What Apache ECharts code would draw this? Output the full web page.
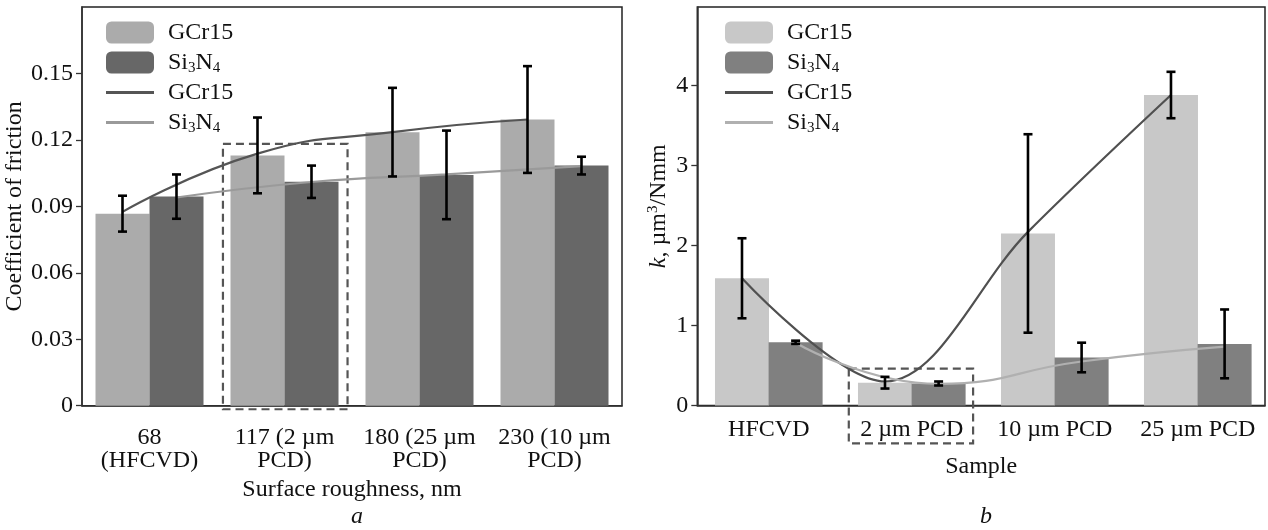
<!DOCTYPE html>
<html>
<head>
<meta charset="utf-8">
<script src="https://cdn.jsdelivr.net/npm/echarts@6/dist/echarts.min.js"></script>
<style>
  html, body { margin: 0; padding: 0; background: #fff; }
  #chart { width: 1268px; height: 530px; }
</style>
</head>
<body>
<div id="chart"></div>
<script>
// ---------- data ----------
const roughnessCategories = ['68\n(HFCVD)', '117 (2 µm\nPCD)', '180 (25 µm\nPCD)', '230 (10 µm\nPCD)'];
const frictionGCr15 = [0.0867, 0.1130, 0.1235, 0.1292];
const frictionSi3N4 = [0.0944, 0.1011, 0.1042, 0.1084];
const frictionErrGCr15 = [0.0081, 0.0171, 0.0200, 0.0241];
const frictionErrSi3N4 = [0.0100, 0.0073, 0.0200, 0.0040];
const frictionFitGCr15 = [0.0875, 0.1138, 0.1235, 0.1292];
const frictionFitSi3N4 = [0.0940, 0.1010, 0.1044, 0.1082];
const frictionTicks = [0, 0.03, 0.06, 0.09, 0.12, 0.15];
const frictionBox = [0.544, -0.0016, 1.467, 0.1182];   // dashed highlight (data units)

const sampleCategories = ['HFCVD', '2 µm PCD', '10 µm PCD', '25 µm PCD'];
const wearGCr15 = [1.59, 0.285, 2.15, 3.88];
const wearSi3N4 = [0.79, 0.275, 0.60, 0.77];
const wearErrGCr15 = [0.50, 0.073, 1.24, 0.29];
const wearErrSi3N4 = [0.02, 0.025, 0.185, 0.43];
const wearFitGCr15 = [1.59, 0.30, 2.17, 3.88];
const wearFitSi3N4 = [0.785, 0.27, 0.55, 0.735];
const wearTicks = [0, 1, 2, 3, 4];
const wearBox = [0.5594, -0.4725, 1.4287, 0.46];       // dashed highlight (data units)

// ---------- styling ----------
const FONT = 'Liberation Serif';
const FS = 24;
const TXT = '#111';
const OFF_A = 0.2;      // half bar spacing, panel a (category units)
const OFF_B = 0.1875;   // half bar spacing, panel b
const LINE_ICON = 'path://M0,0H48V3H0Z';

const richBase = {
  n: { fontFamily: FONT, fontSize: FS, color: TXT, lineHeight: 26, verticalAlign: 'bottom', padding: [0, 0, 1, 0] },
  s: { fontFamily: FONT, fontSize: 15, color: TXT, lineHeight: 26, verticalAlign: 'bottom' },
  p: { fontFamily: FONT, fontSize: 15, color: TXT, lineHeight: 26, verticalAlign: 'top' },
  i: { fontFamily: FONT, fontSize: FS, color: TXT, lineHeight: 26, verticalAlign: 'bottom', fontStyle: 'italic', padding: [0, 0, 1, 0] }
};
const legendLabels = {
  'aBarG': '{n|GCr15}', 'aBarS': '{n|Si}{s|3}{n|N}{s|4}', 'aLineG': '{n|GCr15}', 'aLineS': '{n|Si}{s|3}{n|N}{s|4}',
  'bBarG': '{n|GCr15}', 'bBarS': '{n|Si}{s|3}{n|N}{s|4}', 'bLineG': '{n|GCr15}', 'bLineS': '{n|Si}{s|3}{n|N}{s|4}'
};

function pts(values, offset) { return values.map((v, i) => [i + offset, v]); }
function errs(values, errors, offset) { return values.map((v, i) => [i + offset, v - errors[i], v + errors[i]]); }

function renderErr(params, api) {
  const x = api.value(0);
  const lo = api.coord([x, api.value(1)]);
  const hi = api.coord([x, api.value(2)]);
  const hw = 4.5;
  const st = { stroke: '#000', lineWidth: 2.6 };
  return {
    type: 'group',
    children: [
      { type: 'line', shape: { x1: lo[0], y1: lo[1], x2: hi[0], y2: hi[1] }, style: st },
      { type: 'line', shape: { x1: lo[0] - hw, y1: lo[1], x2: lo[0] + hw, y2: lo[1] }, style: st },
      { type: 'line', shape: { x1: hi[0] - hw, y1: hi[1], x2: hi[0] + hw, y2: hi[1] }, style: st }
    ]
  };
}
function renderBox(params, api) {
  const a = api.coord([api.value(0), api.value(3)]);
  const b = api.coord([api.value(2), api.value(1)]);
  return {
    type: 'rect',
    shape: { x: a[0], y: a[1], width: b[0] - a[0], height: b[1] - a[1] },
    style: { fill: 'none', stroke: '#555', lineWidth: 2.2, lineDash: [8, 5] }
  };
}

function xAxisCfg(gridIndex, cats, max, margin, name, nameGap) {
  return {
    type: 'value', gridIndex, min: -0.5, max,
    splitLine: { show: false },
    axisTick: { show: false },
    axisLine: { onZero: false, lineStyle: { color: '#333', width: 1.5 } },
    axisLabel: {
      customValues: [0, 1, 2, 3],
      formatter: v => cats[Math.round(v)],
      fontFamily: FONT, fontSize: FS, color: TXT, lineHeight: 23, margin
    },
    name, nameLocation: 'middle', nameGap,
    nameTextStyle: { fontFamily: FONT, fontSize: FS, color: TXT }
  };
}
function yAxisCfg(gridIndex, max, ticks, fmt, name, nameGap) {
  return {
    type: 'value', gridIndex, min: 0, max,
    splitLine: { show: false },
    axisLine: { show: true, onZero: false, lineStyle: { color: '#333', width: 1.5 } },
    axisTick: { show: true, customValues: ticks, length: 6, lineStyle: { color: '#333', width: 1.3 } },
    axisLabel: { customValues: ticks, formatter: fmt, fontFamily: FONT, fontSize: FS, color: TXT, margin: 9 },
    name, nameLocation: 'middle', nameGap,
    nameTextStyle: { fontFamily: FONT, fontSize: FS, color: TXT, rich: richBase }
  };
}
function legendCfg(left, names) {
  return {
    orient: 'vertical', left, top: 20.5, padding: 0,
    itemWidth: 48, itemHeight: 22, itemGap: 5,
    selectedMode: false,
    data: names.map((n, k) => (k < 2 ? { name: n } : { name: n, icon: LINE_ICON })),
    formatter: n => legendLabels[n],
    textStyle: { fontFamily: FONT, fontSize: FS, color: TXT, rich: richBase, padding: [0, 0, 0, 9] }
  };
}

const option = {
  animation: false,
  backgroundColor: '#fff',
  title: [
    { text: 'a', left: 352, top: 500, textAlign: 'center', textStyle: { fontFamily: FONT, fontSize: FS, fontStyle: 'italic', fontWeight: 'normal', color: TXT } },
    { text: 'b', left: 981, top: 500, textAlign: 'center', textStyle: { fontFamily: FONT, fontSize: FS, fontStyle: 'italic', fontWeight: 'normal', color: TXT } }
  ],
  grid: [
    { left: 82, top: 7, width: 540, height: 398.7, show: true, borderColor: '#222', borderWidth: 1.5, backgroundColor: 'transparent' },
    { left: 697.3, top: 7, width: 567.7, height: 398.5, show: true, borderColor: '#222', borderWidth: 1.5, backgroundColor: 'transparent' }
  ],
  legend: [
    legendCfg(106, ['aBarG', 'aBarS', 'aLineG', 'aLineS']),
    legendCfg(725, ['bBarG', 'bBarS', 'bLineG', 'bLineS'])
  ],
  xAxis: [
    xAxisCfg(0, roughnessCategories, 3.5, 21, 'Surface roughness, nm', 70),
    xAxisCfg(1, sampleCategories, 3.47, 13, 'Sample', 49)
  ],
  yAxis: [
    yAxisCfg(0, 0.18, frictionTicks, v => (v === 0 ? '0' : v.toFixed(2)), 'Coefficient of friction', 48),
    yAxisCfg(1, 4.98, wearTicks, v => String(v), '{i|k}{n|, µm}{p|3}{n|/Nmm}', 26)
  ],
  series: [
    // panel a
    { name: 'aBarG', type: 'bar', xAxisIndex: 0, yAxisIndex: 0, data: pts(frictionGCr15, -OFF_A), barWidth: 54, barGap: '-100%', itemStyle: { color: '#ababab' }, z: 2 },
    { name: 'aBarS', type: 'bar', xAxisIndex: 0, yAxisIndex: 0, data: pts(frictionSi3N4, OFF_A), barWidth: 54, barGap: '-100%', itemStyle: { color: '#676767' }, z: 2 },
    { name: 'boxA', type: 'custom', xAxisIndex: 0, yAxisIndex: 0, data: [frictionBox], encode: { x: [0, 2], y: [1, 3] }, renderItem: renderBox, clip: false, z: 3, silent: true },
    { name: 'aLineG', type: 'line', xAxisIndex: 0, yAxisIndex: 0, data: pts(frictionFitGCr15, -OFF_A), smooth: 0.5, symbol: 'none', lineStyle: { color: '#555555', width: 2.2 }, itemStyle: { color: '#555555' }, z: 4 },
    { name: 'aLineS', type: 'line', xAxisIndex: 0, yAxisIndex: 0, data: pts(frictionFitSi3N4, OFF_A), smooth: 0.5, symbol: 'none', lineStyle: { color: '#9a9a9a', width: 2.2 }, itemStyle: { color: '#9a9a9a' }, z: 4 },
    { name: 'errAG', type: 'custom', xAxisIndex: 0, yAxisIndex: 0, data: errs(frictionGCr15, frictionErrGCr15, -OFF_A), encode: { x: 0, y: [1, 2] }, renderItem: renderErr, z: 5, silent: true },
    { name: 'errAS', type: 'custom', xAxisIndex: 0, yAxisIndex: 0, data: errs(frictionSi3N4, frictionErrSi3N4, OFF_A), encode: { x: 0, y: [1, 2] }, renderItem: renderErr, z: 5, silent: true },
    // panel b
    { name: 'bBarG', type: 'bar', xAxisIndex: 1, yAxisIndex: 1, data: pts(wearGCr15, -OFF_B), barWidth: 54, barGap: '-100%', itemStyle: { color: '#c8c8c8' }, z: 2 },
    { name: 'bBarS', type: 'bar', xAxisIndex: 1, yAxisIndex: 1, data: pts(wearSi3N4, OFF_B), barWidth: 54, barGap: '-100%', itemStyle: { color: '#808080' }, z: 2 },
    { name: 'boxB', type: 'custom', xAxisIndex: 1, yAxisIndex: 1, data: [wearBox], encode: { x: [0, 2], y: [1, 3] }, renderItem: renderBox, clip: false, z: 3, silent: true },
    { name: 'bLineG', type: 'line', xAxisIndex: 1, yAxisIndex: 1, data: pts(wearFitGCr15, -OFF_B), smooth: 0.35, symbol: 'none', lineStyle: { color: '#505050', width: 2.2 }, itemStyle: { color: '#505050' }, z: 4 },
    { name: 'bLineS', type: 'line', xAxisIndex: 1, yAxisIndex: 1, data: pts(wearFitSi3N4, OFF_B), smooth: 0.5, symbol: 'none', lineStyle: { color: '#b0b0b0', width: 2.2 }, itemStyle: { color: '#b0b0b0' }, z: 4 },
    { name: 'errBG', type: 'custom', xAxisIndex: 1, yAxisIndex: 1, data: errs(wearGCr15, wearErrGCr15, -OFF_B), encode: { x: 0, y: [1, 2] }, renderItem: renderErr, z: 5, silent: true },
    { name: 'errBS', type: 'custom', xAxisIndex: 1, yAxisIndex: 1, data: errs(wearSi3N4, wearErrSi3N4, OFF_B), encode: { x: 0, y: [1, 2] }, renderItem: renderErr, z: 5, silent: true }
  ]
};

const chart = echarts.init(document.getElementById('chart'), null, { renderer: 'canvas' });
chart.setOption(option);
</script>
</body>
</html>
